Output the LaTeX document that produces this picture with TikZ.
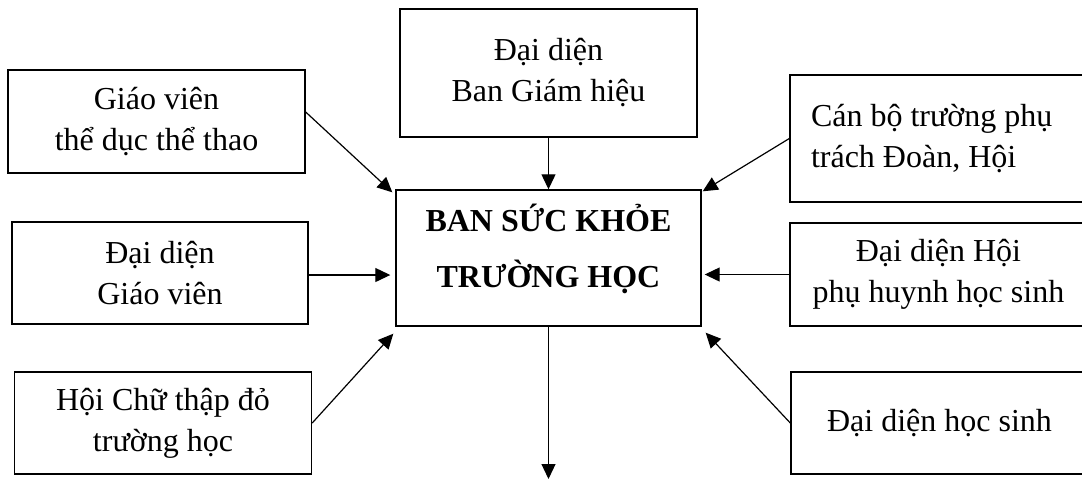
\documentclass[tikz,border=0pt]{standalone}
\usepackage{fontspec}
\setmainfont{Liberation Serif}
\usetikzlibrary{arrows.meta,calc}
\tikzset{
  box/.style={draw, line width=0.7pt, inner sep=0pt, align=center,
    font=\fontsize{16}{20.5}\selectfont},
  conn/.style={line width=0.6pt, -{Triangle[length=7.5pt,width=7pt]}},
}
\begin{document}
\begin{tikzpicture}[x=0.5pt,y=-0.5pt]
\useasboundingbox (0,0) rectangle (1082,479);
\clip (0,0) rectangle (1082,479);
% left column
\node[box, minimum width=148.5pt, minimum height=51.5pt] (tdtt) at (156.5,121.5) {Giáo viên\\thể dục thể thao};
\node[box, minimum width=148pt, minimum height=51pt] (gv) at (160,273) {Đại diện\\Giáo viên};
\node[box, minimum width=148.5pt, minimum height=51pt] (ctd) at (163,423) {Hội Chữ thập đỏ\\trường học};
% top
\node[box, minimum width=148.5pt, minimum height=64pt] (bgh) at (548.5,73) {Đại diện\\Ban Giám hiệu};
% centre
\node[box, minimum width=152.5pt, minimum height=68pt,
  font=\bfseries\fontsize{16}{28}\selectfont] (sk) at (548.5,258) {BAN SỨC KHỎE\\TRƯỜNG HỌC\rule[-12pt]{0pt}{0pt}};
% right column
\node[box, minimum width=148.5pt, minimum height=63.5pt, align=flush left,
  inner xsep=10.5pt, text width=127.5pt] (canbo) at (938.5,138.5) {Cán bộ trường phụ\\trách Đoàn, Hội};
\node[box, minimum width=148.5pt, minimum height=51.5pt] (phhs) at (938.5,274.5) {Đại diện Hội\\phụ huynh học sinh};
\node[box, minimum width=148.5pt, minimum height=51pt] (hs) at (939.5,423) {Đại diện học sinh};
\coordinate (out) at (548.5,479);
% connectors
\draw[conn] ([yshift=4.75pt]tdtt.east) -- ([xshift=-1.5pt,yshift=-1.5pt]sk.north west);
\draw[conn] ([yshift=-1pt]gv.east) -- ([xshift=-2.5pt,yshift=-1pt]gv.east -| sk.west);
\draw[conn] (ctd.east) -- ([xshift=-1pt,yshift=-3.5pt]sk.south west);
\draw[conn] (bgh.south) -- (sk.north);
\draw[conn] (canbo.west) -- ([xshift=0.5pt,yshift=-1pt]sk.north east);
\draw[conn] (phhs.west) -- ([xshift=1.5pt]phhs.west -| sk.east);
\draw[conn] (hs.west) -- ([xshift=2pt,yshift=-3pt]sk.south east);
\draw[conn] (sk.south) -- (out);
\end{tikzpicture}
\end{document}
